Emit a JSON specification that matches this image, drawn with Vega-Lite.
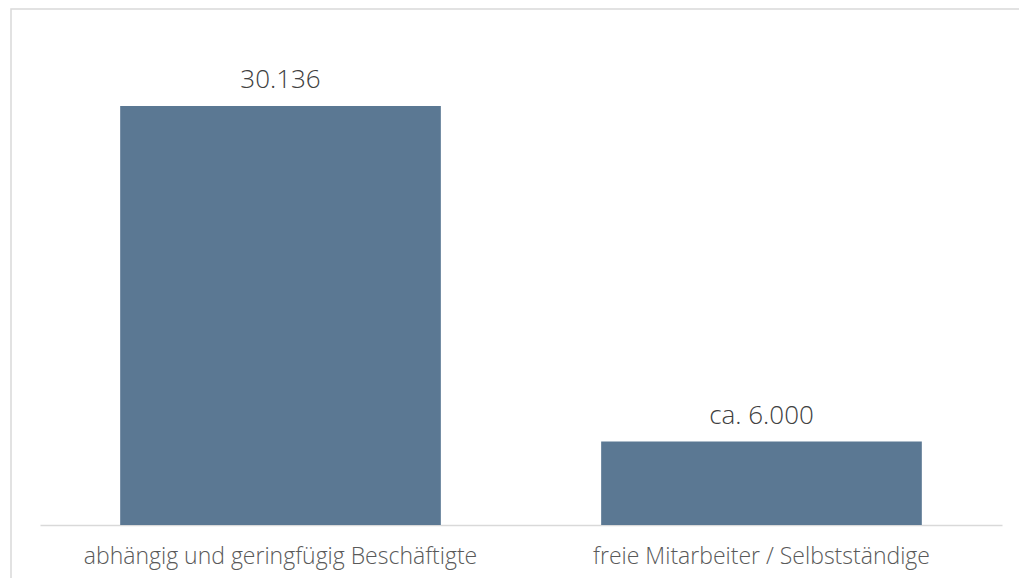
{
  "$schema": "https://vega.github.io/schema/vega-lite/v6.json",
  "autosize": "none",
  "padding": {"left": 11, "top": 9, "right": 0, "bottom": 0},
  "width": 1020,
  "height": 580,
  "background": "white",
  "config": {
    "view": {"stroke": "#d9d9d9", "strokeWidth": 1.5},
    "font": "Open Sans"
  },
  "data": {
    "values": [
      {"kategorie": "abhängig und geringfügig Beschäftigte", "wert": 30136, "label": "30.136"},
      {"kategorie": "freie Mitarbeiter / Selbstständige", "wert": 6000, "label": "ca. 6.000"}
    ]
  },
  "encoding": {
    "x": {
      "field": "kategorie",
      "type": "nominal",
      "sort": null,
      "scale": {"range": [29, 991], "paddingInner": 0.3333, "paddingOuter": 0.1667},
      "axis": {
        "title": null,
        "orient": "bottom",
        "offset": -64,
        "labelAngle": 0,
        "ticks": false,
        "domainColor": "#d9d9d9",
        "domainWidth": 1.5,
        "labelFontSize": 23,
        "labelFontWeight": 300,
        "labelColor": "#595959",
        "labelPadding": 20,
        "labelLimit": 0,
        "labelFont": "Open Sans"
      }
    },
    "y": {
      "field": "wert",
      "type": "quantitative",
      "scale": {"domain": [0, 37112], "range": [516, 0], "nice": false},
      "axis": null
    }
  },
  "layer": [
    {"mark": {"type": "bar", "color": "#5b7893"}},
    {
      "mark": {"type": "text", "baseline": "alphabetic", "align": "center", "dy": -18, "fontSize": 26, "fontWeight": 300, "color": "#404040", "font": "Open Sans"},
      "encoding": {"text": {"field": "label"}}
    }
  ]
}
